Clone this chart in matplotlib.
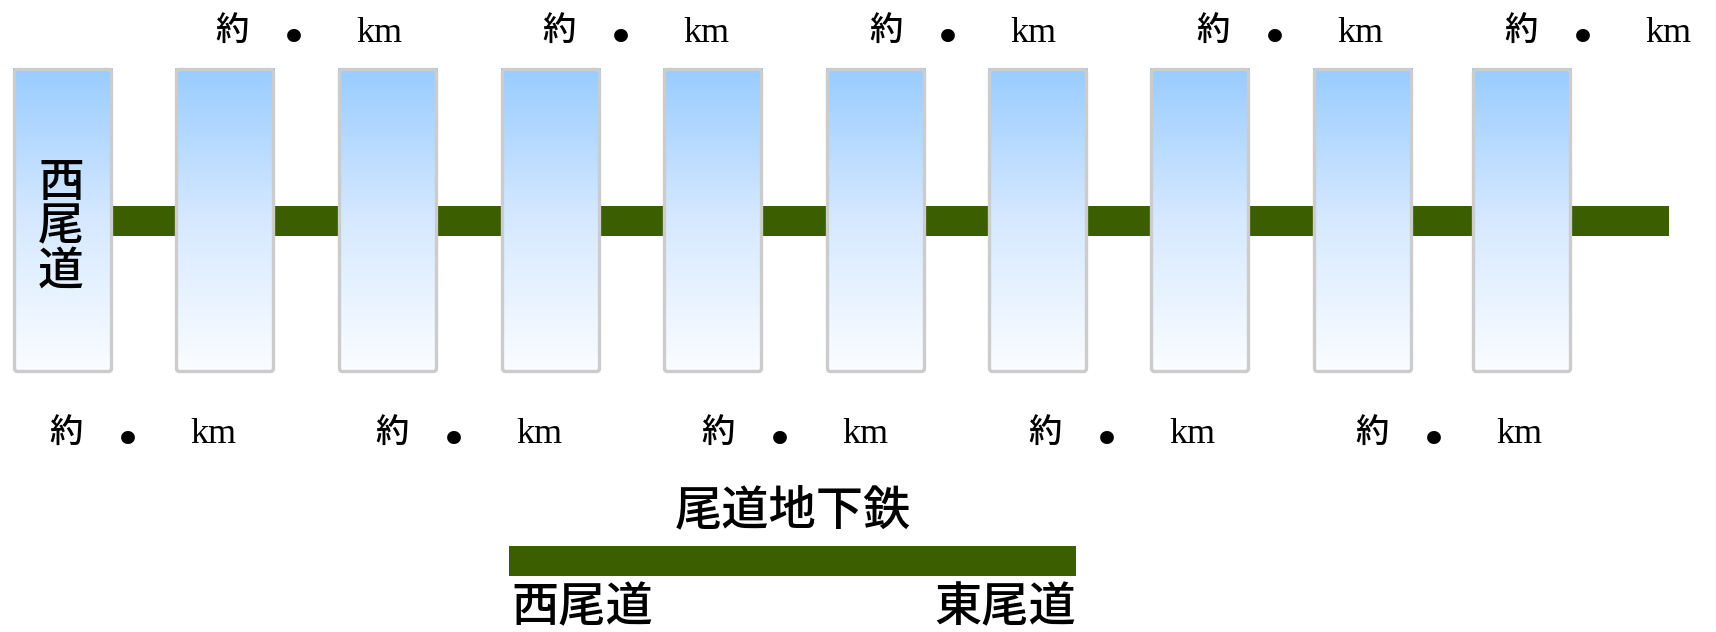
import matplotlib
matplotlib.use("Agg")
import matplotlib.pyplot as plt
import numpy as np
from matplotlib.colors import LinearSegmentedColormap
from matplotlib.patches import Rectangle, FancyBboxPatch

# station boxes (left edge, px units of the 1716x632 canvas)
box_left = [13, 175, 338, 501, 663, 826, 988, 1150, 1313, 1472]
box_top, box_bottom, box_w = 68, 373, 100
track_start, track_end = 63, 1669
track_y, track_h = 206, 30

# distance labels (x of the 約 glyph), above and below the line
top_label_x = [232, 559, 886, 1213, 1521]
bottom_label_x = [66, 392, 718, 1045, 1372]
label_parts = ["約", "•", "km"]

first_station = ["西", "尾", "道"]
line_name = "尾道地下鉄"
line_ends = ["西尾道", "東尾道"]
legend_bar = [509, 1076]

green = "#3a5e00"
cjk = ["Noto Sans CJK JP", "DejaVu Sans"]
serif = ["Liberation Serif", "DejaVu Serif"]

fig = plt.figure(figsize=(17.16, 6.32), dpi=100)
ax = fig.add_axes([0, 0, 1, 1])
ax.set_xlim(0, 1716)
ax.set_ylim(632, 0)
ax.axis("off")

# track behind the boxes
ax.add_patch(Rectangle((track_start, track_y), track_end - track_start, track_h,
                       facecolor=green, edgecolor="none", zorder=1))

cmap = LinearSegmentedColormap.from_list("sky", ["#99ccff", "#d6e9ff", "#fbfdff"])
grad = np.linspace(0, 1, 256).reshape(-1, 1)
for x in box_left:
    ax.imshow(grad, cmap=cmap, aspect="auto", interpolation="bilinear",
              extent=(x, x + box_w, box_bottom, box_top), zorder=2)
    ax.add_patch(FancyBboxPatch((x + 1.5, box_top + 1.5), box_w - 3, box_bottom - box_top - 3,
                                boxstyle="round,pad=0,rounding_size=3",
                                facecolor="none", edgecolor="#cccccc", linewidth=2.4, zorder=3))

# vertical name in the first box
for i, ch in enumerate(first_station):
    ax.text(box_left[0] + box_w / 2 - 2, 183 + 44 * i, ch, family=cjk, fontsize=33,
            fontweight="medium", ha="center", va="center", zorder=4)


def distance_label(x, y_mid, y_base):
    ax.text(x, y_mid, label_parts[0], family=cjk, fontsize=24, fontweight="medium",
            ha="center", va="center")
    ax.text(x + 62, y_base - 1, label_parts[1], family=["DejaVu Sans"], fontsize=34,
            ha="center", va="center")
    ax.text(x + 124, y_base, label_parts[2], family=serif, fontsize=26,
            ha="left", va="baseline")


for x in top_label_x:
    distance_label(x, 30, 42)
for x in bottom_label_x:
    distance_label(x, 432, 443)

# legend
ax.text(sum(legend_bar) / 2, 511, line_name, family=cjk, fontsize=34, fontweight="medium",
        ha="center", va="center")
ax.add_patch(Rectangle((legend_bar[0], 546), legend_bar[1] - legend_bar[0], 30,
                       facecolor=green, edgecolor="none"))
ax.text(legend_bar[0] + 2, 608, line_ends[0], family=cjk, fontsize=34, fontweight="medium",
        ha="left", va="center")
ax.text(legend_bar[1], 608, line_ends[1], family=cjk, fontsize=34, fontweight="medium",
        ha="right", va="center")

fig.savefig("out.png", dpi=100)
